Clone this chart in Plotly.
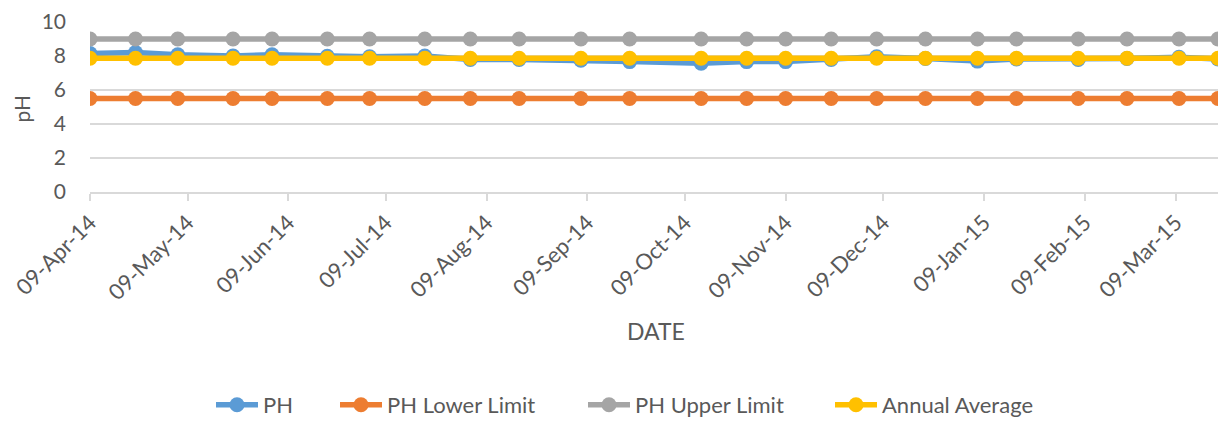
import plotly.graph_objects as go

# Sampling dates over the monitoring year
dates = [
    "2014-04-09", "2014-04-23", "2014-05-06", "2014-05-23", "2014-06-04",
    "2014-06-21", "2014-07-04", "2014-07-21", "2014-08-04", "2014-08-19",
    "2014-09-07", "2014-09-22", "2014-10-14", "2014-10-28", "2014-11-09",
    "2014-11-23", "2014-12-07", "2014-12-22", "2015-01-07", "2015-01-19",
    "2015-02-07", "2015-02-22", "2015-03-10", "2015-03-22",
]

# Measured pH values
ph = [
    8.15, 8.20, 8.07, 8.00, 8.07, 7.98, 7.95, 8.00, 7.80, 7.80,
    7.75, 7.67, 7.57, 7.67, 7.67, 7.80, 7.95, 7.85, 7.70, 7.83,
    7.80, 7.85, 7.92, 7.83,
]

ph_lower = [5.5] * 24
ph_upper = [9.0] * 24
annual_avg = [7.87] * 24

tick_dates = [
    "2014-04-09", "2014-05-09", "2014-06-09", "2014-07-09", "2014-08-09",
    "2014-09-09", "2014-10-09", "2014-11-09", "2014-12-09", "2015-01-09",
    "2015-02-09", "2015-03-09",
]
tick_labels = [
    "09-Apr-14", "09-May-14", "09-Jun-14", "09-Jul-14", "09-Aug-14",
    "09-Sep-14", "09-Oct-14", "09-Nov-14", "09-Dec-14", "09-Jan-15",
    "09-Feb-15", "09-Mar-15",
]

y_ticks = [0, 2, 4, 6, 8, 10]

FONT = "Lato"
TEXT = "#595959"
GRID = "#d9d9d9"
W, H = 1226, 421

# name, values, colour, legend id, legend left edge (px)
series = [
    ("PH", ph, "#5B9BD5", "legend", 211),
    ("PH Lower Limit", ph_lower, "#ED7D31", "legend2", 335),
    ("PH Upper Limit", ph_upper, "#A5A5A5", "legend3", 583),
    ("Annual Average", annual_avg, "#FFC000", "legend4", 830),
]

fig = go.Figure()
legends = {}
for name, vals, color, leg, left in series:
    fig.add_trace(go.Scatter(
        x=dates, y=vals, name=name, mode="lines+markers",
        line=dict(color=color, width=5.5),
        marker=dict(color=color, size=15),
        legend=leg,
    ))
    legends[leg] = dict(
        orientation="h",
        xref="container", x=left / W, xanchor="left",
        yref="container", y=1 - 405 / H, yanchor="middle",
        font=dict(size=22, color=TEXT, family=FONT),
        itemwidth=42, bgcolor="rgba(0,0,0,0)",
    )

fig.update_layout(
    width=W, height=H,
    margin=dict(l=90, r=8, t=19, b=229),
    paper_bgcolor="white", plot_bgcolor="white",
    font=dict(family=FONT, color=TEXT, size=20),
    showlegend=True,
    xaxis=dict(
        type="date",
        range=[dates[0], dates[-1]],
        tickvals=tick_dates, ticktext=tick_labels,
        tickangle=-45, tickfont=dict(size=22, color=TEXT),
        showgrid=False, zeroline=False,
        showline=True, linecolor=GRID, linewidth=2,
        ticks="outside", ticklen=7, tickcolor=GRID, tickwidth=2,
    ),
    yaxis=dict(
        range=[0, 10], tickvals=y_ticks,
        tickfont=dict(size=21, color=TEXT),
        showgrid=True, gridcolor=GRID, gridwidth=2,
        zeroline=False, showline=False, ticks="",
        ticklabelstandoff=23,
    ),
    annotations=[
        dict(text="DATE", xref="paper", yref="paper", x=0.502, y=-0.815,
             xanchor="center", yanchor="middle",
             showarrow=False, font=dict(size=23, color=TEXT)),
        dict(text="pH", xref="paper", yref="paper", x=-0.0605, y=0.49,
             xanchor="center", yanchor="middle",
             textangle=-90, showarrow=False, font=dict(size=21, color=TEXT)),
    ],
    **legends,
)

fig.write_html("out.html")
